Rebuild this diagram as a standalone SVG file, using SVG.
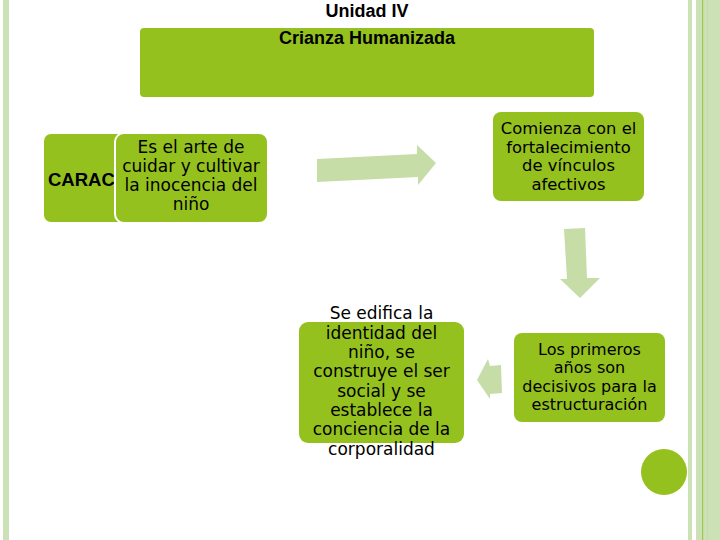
<svg xmlns="http://www.w3.org/2000/svg" width="720" height="540" viewBox="0 0 720 540">
<style>
.box{fill:#95c11f;}
.arrow{fill:#c6dda8;}
.stripe{fill:#cde1b7;}
.t{font-family:"DejaVu Sans",Verdana,sans-serif;fill:#000;text-anchor:middle;}
.b{font-family:"Liberation Sans",Arial,sans-serif;font-weight:bold;fill:#000;}
</style>
<rect width="720" height="540" fill="#ffffff"/>
<g id="frame">
<rect class="stripe" x="3" y="0" width="6" height="540"/>
<rect class="stripe" x="688" y="0" width="4" height="540"/>
<rect class="stripe" x="696" y="0" width="24" height="540"/>
<rect x="702" y="0" width="1.2" height="540" fill="#9cc84e"/>
<rect x="707" y="0" width="1" height="540" fill="#c4dbaa"/>
</g>
<g id="title">
<text class="b" x="367" y="17" font-size="18" text-anchor="middle">Unidad IV</text>
</g>
<g id="header">
<rect class="box" x="140" y="28" width="454" height="69" rx="4"/>
<text class="b" x="367" y="44" font-size="18" text-anchor="middle">Crianza Humanizada</text>
</g>
<g id="carac">
<rect class="box" x="44" y="134" width="222" height="88" rx="7"/>
<text class="b" x="48" y="186" font-size="18.5">CARAC</text>
<rect class="box" x="115" y="133" width="153" height="90" rx="9" stroke="#ffffff" stroke-width="2"/>
<text class="t" font-size="17"><tspan x="191" y="153">Es el arte de</tspan><tspan x="191" y="172">cuidar y cultivar</tspan><tspan x="191" y="191">la inocencia del</tspan><tspan x="191" y="210">niño</tspan></text>
</g>
<g id="vinculos">
<rect class="box" x="493" y="112" width="151" height="89" rx="8"/>
<text class="t" font-size="16.4"><tspan x="568.5" y="134">Comienza con el</tspan><tspan x="568.5" y="152.5">fortalecimiento</tspan><tspan x="568.5" y="171">de vínculos</tspan><tspan x="568.5" y="189.5">afectivos</tspan></text>
</g>
<g id="primeros">
<rect class="box" x="514" y="333" width="151" height="89" rx="8"/>
<text class="t" font-size="16"><tspan x="589.5" y="355">Los primeros</tspan><tspan x="589.5" y="373">años son</tspan><tspan x="589.5" y="392">decisivos para la</tspan><tspan x="589.5" y="410">estructuración</tspan></text>
</g>
<g id="identidad">
<rect class="box" x="299" y="322" width="165" height="121" rx="9"/>
<text class="t" font-size="17"><tspan x="381.5" y="319">Se edifica la</tspan><tspan x="381.5" y="339">identidad del</tspan><tspan x="381.5" y="358">niño, se</tspan><tspan x="381.5" y="377">construye el ser</tspan><tspan x="381.5" y="397">social y se</tspan><tspan x="381.5" y="416">establece la</tspan><tspan x="381.5" y="435">conciencia de la</tspan><tspan x="381.5" y="455">corporalidad</tspan></text>
</g>
<g id="circle">
<circle class="box" cx="664" cy="472" r="23"/>
</g>
<g id="connectors">
<polygon class="arrow" points="317,159 417,154 417,145 436,163 418,185 418,177 317,182"/>
<polygon class="arrow" points="564,229 585,228 587,278 600,278 580,298 560,279 567,279"/>
<polygon class="arrow" points="477,380 488,359 490,366 501,365 502,393 490,394 490,399"/>
</g>
</svg>
